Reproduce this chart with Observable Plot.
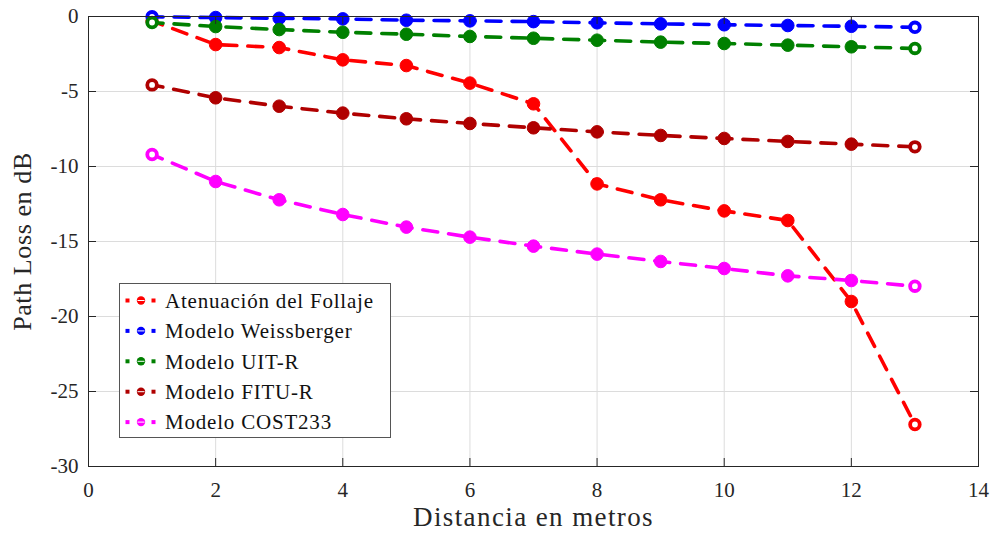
<!DOCTYPE html>
<html><head><meta charset="utf-8">
<script src="https://cdn.jsdelivr.net/npm/d3@7"></script>
<script src="https://cdn.jsdelivr.net/npm/@observablehq/plot@0.6"></script>
<style>body{margin:0;background:#fff;} #chart{width:990px;height:540px;}</style>
</head><body><div id="chart"></div>
<script>
const distancia = [1,2,3,4,5,6,7,8,9,10,11,12,13];
const atenuacion = [-0.3,-1.87,-2.07,-2.89,-3.27,-4.44,-5.82,-11.16,-12.22,-12.96,-13.6,-19.0,-27.2];
const weissberger = [-0.02,-0.07,-0.12,-0.16,-0.25,-0.29,-0.34,-0.42,-0.49,-0.55,-0.6,-0.65,-0.72];
const uitr = [-0.4,-0.67,-0.87,-1.05,-1.18,-1.33,-1.45,-1.58,-1.71,-1.8,-1.91,-2.02,-2.13];
const fitur = [-4.56,-5.42,-5.98,-6.44,-6.82,-7.13,-7.42,-7.69,-7.93,-8.13,-8.33,-8.51,-8.69];
const cost233 = [-9.2,-11.0,-12.22,-13.2,-14.04,-14.71,-15.31,-15.84,-16.33,-16.8,-17.29,-17.6,-17.98];
const seriesNames = ["Atenuación del Follaje","Modelo Weissberger","Modelo UIT-R","Modelo FITU-R","Modelo COST233"];
const seriesValues = [atenuacion, weissberger, uitr, fitur, cost233];
const seriesColors = ["#ff0000","#0000ff","#008000","#b00000","#ff00ff"];
const xTicks = [0,2,4,6,8,10,12,14];
const yTicks = [0,-5,-10,-15,-20,-25,-30];
const yTickLabels = ["0","-5","-10","-15","-20","-25","-30"];
const xLabel = "Distancia en metros";
const yLabel = "Path Loss en dB";

const W = 990, H = 540, mL = 88, mR = 12, mT = 16, mB = 74;
const plotW = W - mL - mR, plotH = H - mT - mB;
const font = "'Liberation Serif', 'DejaVu Serif', serif";
const axisColor = "#262626";

const series = seriesNames.map((name, i) => {
  const n = distancia.length;
  return distancia.map((x, j) => ({serie: name, x, y: seriesValues[i][j], end: j === 0 || j === n - 1}));
});

const seriesMarks = series.flatMap((rows, i) => [
  Plot.lineY(rows, {x: "x", y: "y", stroke: seriesColors[i], strokeWidth: 3.6, strokeDasharray: "15,11", strokeDashoffset: 4}),
  Plot.dot(rows, {filter: d => !d.end, x: "x", y: "y", r: 6.3, fill: seriesColors[i], stroke: seriesColors[i], strokeWidth: 1}),
  Plot.dot(rows, {filter: d => d.end, x: "x", y: "y", r: 4.8, fill: "white", stroke: seriesColors[i], strokeWidth: 3.8})
]);

const chart = Plot.plot({
  width: W, height: H,
  marginLeft: mL, marginRight: mR, marginTop: mT, marginBottom: mB,
  style: {fontFamily: font, background: "#fff", color: "#262626", overflow: "visible"},
  x: {domain: [0, 14]},
  y: {domain: [-30, 0]},
  marks: [
    Plot.gridX(xTicks, {x: d => d, stroke: "#dcdcdc", strokeOpacity: 1, strokeWidth: 1}),
    Plot.gridY(yTicks, {y: d => d, stroke: "#dcdcdc", strokeOpacity: 1, strokeWidth: 1}),
    ...seriesMarks,
    Plot.tickX(xTicks, {x: d => d, insetTop: plotH - 8, stroke: axisColor}),
    Plot.tickX(xTicks, {x: d => d, insetBottom: plotH - 8, stroke: axisColor}),
    Plot.tickY(yTicks, {y: d => d, insetRight: plotW - 8, stroke: axisColor}),
    Plot.tickY(yTicks, {y: d => d, insetLeft: plotW - 8, stroke: axisColor}),
    Plot.frame({stroke: axisColor, strokeWidth: 1}),
    Plot.axisX(xTicks, {tickSize: 0, tickPadding: 16, fontSize: 21, label: null, fill: "#262626"}),
    Plot.axisY(yTicks, {tickSize: 0, tickPadding: 10, fontSize: 21, label: null, fill: "#262626",
      tickFormat: d => yTickLabels[yTicks.indexOf(d)]}),
    Plot.text([xLabel], {frameAnchor: "bottom", textAnchor: "middle", dy: 59, fontSize: 27, fill: "#262626"}),
    Plot.text([yLabel], {frameAnchor: "left", textAnchor: "middle", dx: -66, rotate: -90, fontSize: 26, fill: "#262626"})
  ]
});
document.getElementById("chart").appendChild(chart);

// letter spacing on axis titles to mimic the wider Computer Modern face
d3.select(chart).selectAll("text").filter(function() { return this.textContent === xLabel; }).attr("letter-spacing", 1.4);
d3.select(chart).selectAll("text").filter(function() { return this.textContent === yLabel; }).attr("letter-spacing", 0.6);

// Legend
const svg = d3.select(chart);
const lg = svg.append("g").attr("font-family", font).attr("font-size", 21).attr("text-anchor", "start");
const lx = 119.5, ly = 283.5, lw = 271, lh = 154, step = 30.4;
lg.append("rect").attr("x", lx).attr("y", ly).attr("width", lw).attr("height", lh)
  .attr("fill", "white").attr("stroke", "#555").attr("stroke-width", 1);
seriesNames.forEach((name, i) => {
  const cy = ly + 17 + i * step;
  const c = seriesColors[i];
  lg.append("rect").attr("x", 125.5).attr("y", cy - 2).attr("width", 4).attr("height", 4).attr("fill", c);
  lg.append("rect").attr("x", 151.5).attr("y", cy - 2).attr("width", 4).attr("height", 4).attr("fill", c);
  lg.append("circle").attr("cx", 141).attr("cy", cy).attr("r", 4.2).attr("fill", c);
  lg.append("line").attr("x1", 137.5).attr("x2", 144.5).attr("y1", cy).attr("y2", cy).attr("stroke", "white").attr("stroke-width", 1);
  lg.append("text").attr("x", 165).attr("y", cy).attr("dy", "0.35em").attr("fill", "#111")
    .attr("text-anchor", "start").attr("letter-spacing", 0.8).text(name);
});
</script>
</body></html>
